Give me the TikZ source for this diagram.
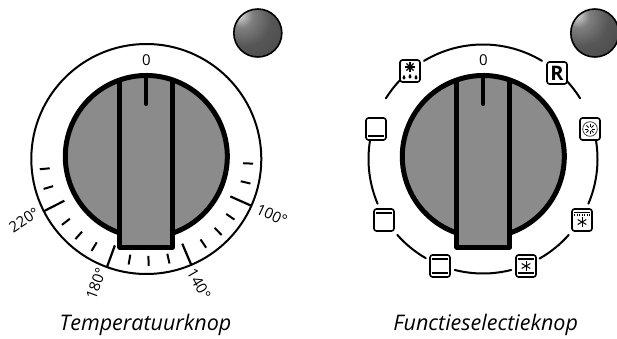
\documentclass[tikz,border=0pt]{standalone}
\usepackage{fontspec}
\setmainfont{Open Sans}
\usepackage{xcolor}
\definecolor{knobgray}{gray}{0.545}
\pgfdeclareradialshading{lampball}{\pgfpoint{-20bp}{20bp}}{%
  color(0bp)=(black!8);color(4bp)=(black!25);color(12bp)=(black!50);color(28bp)=(black!66);
  color(52bp)=(black!72);color(64bp)=(black!62);color(100bp)=(black!55)}
\tikzset{
  x=1pt,y=1pt,
  ringline/.style={line width=2pt,line cap=round},
  majortick/.style={line width=2.2pt},
  minortick/.style={line width=2pt},
  knobline/.style={line width=5pt,line join=round},
  iconframe/.style={draw,fill=white,line width=1.6pt,rounded corners=2.5pt,
    minimum width=20pt,minimum height=22pt,inner sep=0pt},
  scalelabel/.style={font=\fontsize{15}{15}\selectfont,inner sep=0pt},
  caption/.style={font=\fontsize{21.5}{22}\selectfont\itshape,inner sep=0pt},
}
\newcommand{\drawknob}[2]{
  \fill[knobgray] (#1,181.5) circle (81);
  \fill[knobgray] (#1-26.6,91) rectangle (#1+26.6,200);
  \draw[knobline] (#1,181.5) ++(-70.8:81) arc (-70.8:250.8:81);
  \draw[knobline] (#1-26.6,258) -- (#1-26.6,91) -- (#1+26.6,91) -- (#1+26.6,258);
  \draw[line width=4pt,line cap=round] (#1,260) -- (#1,234);
  \node[scalelabel] (#2) at (#1,278) {0};
  \shadedraw[shading=lampball,line width=1.6pt] (#1+111.5,305) circle (24);
}
\newcommand{\iconstar}[3]{
  \foreach \s in {30,90,150} {
    \draw[line width=1pt] (#1,#2) ++(\s:#3) -- ++(\s+180:2*#3);
  }
}
\newcommand{\icondrop}[2]{
  \fill (#1,#2) circle (1.7);
  \fill (#1-1.5,#2+0.6) -- (#1,#2+3.2) -- (#1+1.5,#2+0.6) -- cycle;
}
\newcommand{\iconbox}[4]{
  \node[iconframe] (#1) at (#2,#3) {};
  \begin{scope}[shift={(#1.center)}]
    #4
  \end{scope}
}
\begin{document}
\begin{tikzpicture}
  \useasboundingbox (0,0) rectangle (617,338);

  \draw[ringline] (146.3,179) circle (115);
  \foreach \a in {-2.5,-13.25,-34.5,-45.25,-56,-77.5,-88.75,-99.5,-120.75,-131.5,-142,-163.75,-174.5} {
    \draw[minortick] (146.3,179) ++(\a:97) -- ++(\a:10);
  }
  \foreach \a in {-24,-67,-110,-153} {
    \draw[majortick] (146.3,179) ++(\a:92) -- ++(\a:22.5);
  }
  \drawknob{146.3}{zeroA}
  \node[scalelabel,rotate=33] (degA) at (24,118) {220°};
  \node[scalelabel,rotate=70] (degB) at (96,54) {180°};
  \node[scalelabel,rotate=-60] (degC) at (199,54) {140°};
  \node[scalelabel,rotate=-25] (degD) at (272,123) {100°};
  \node[caption] (capA) at (145.5,13) {Temperatuurknop};

  \foreach \a/\b in {59/121,133/148,163/203,221.5/240,255.7/284.3,299.6/318.5,337/377,32/47} {
    \draw[ringline] (483,179) ++(\a:114.5) arc (\a:\b:114.5);
  }
  \drawknob{483.3}{zeroB}
  \iconbox{iconA}{410}{267}{
    \foreach \s in {0,45,90,135} {
      \draw[line width=1.1pt] (0,4) ++(\s:5) -- ++(\s+180:10);
    }
    \icondrop{-6}{-7}
    \icondrop{0}{-6}
    \icondrop{6}{-7}
  }
  \node[iconframe,font=\fontsize{20}{20}\selectfont\bfseries] (iconB) at (557,265) {R};
  \iconbox{iconC}{590}{209}{
    \draw[line width=0.8pt,black!75] (0,0) circle (7.3);
    \foreach \s in {0,45,...,315} {
      \draw[line width=0.8pt] (\s:2) -- (\s:5);
    }
  }
  \iconbox{iconD}{582}{118}{
    \draw[line width=1.5pt] (-8,7.3) -- (8,7.3);
    \draw[line width=2pt,dash pattern=on 1pt off 1.5pt] (-8,5.5) -- (8,5.5);
    \iconstar{0}{-2}{5}
  }
  \iconbox{iconE}{526}{72}{
    \draw[line width=2pt] (-8,7) -- (8,7) (-8,-7) -- (8,-7);
    \iconstar{0}{0}{5}
  }
  \iconbox{iconF}{440}{72}{
    \draw[line width=2pt] (-8,7) -- (8,7) (-8,-7) -- (8,-7);
  }
  \iconbox{iconG}{384}{118}{
    \draw[line width=2pt] (-8,7) -- (8,7);
  }
  \iconbox{iconH}{376}{209}{
    \draw[line width=2pt] (-8,-7) -- (8,-7);
  }
  \node[caption] (capB) at (485.7,13) {Functieselectieknop};
\end{tikzpicture}
\end{document}
